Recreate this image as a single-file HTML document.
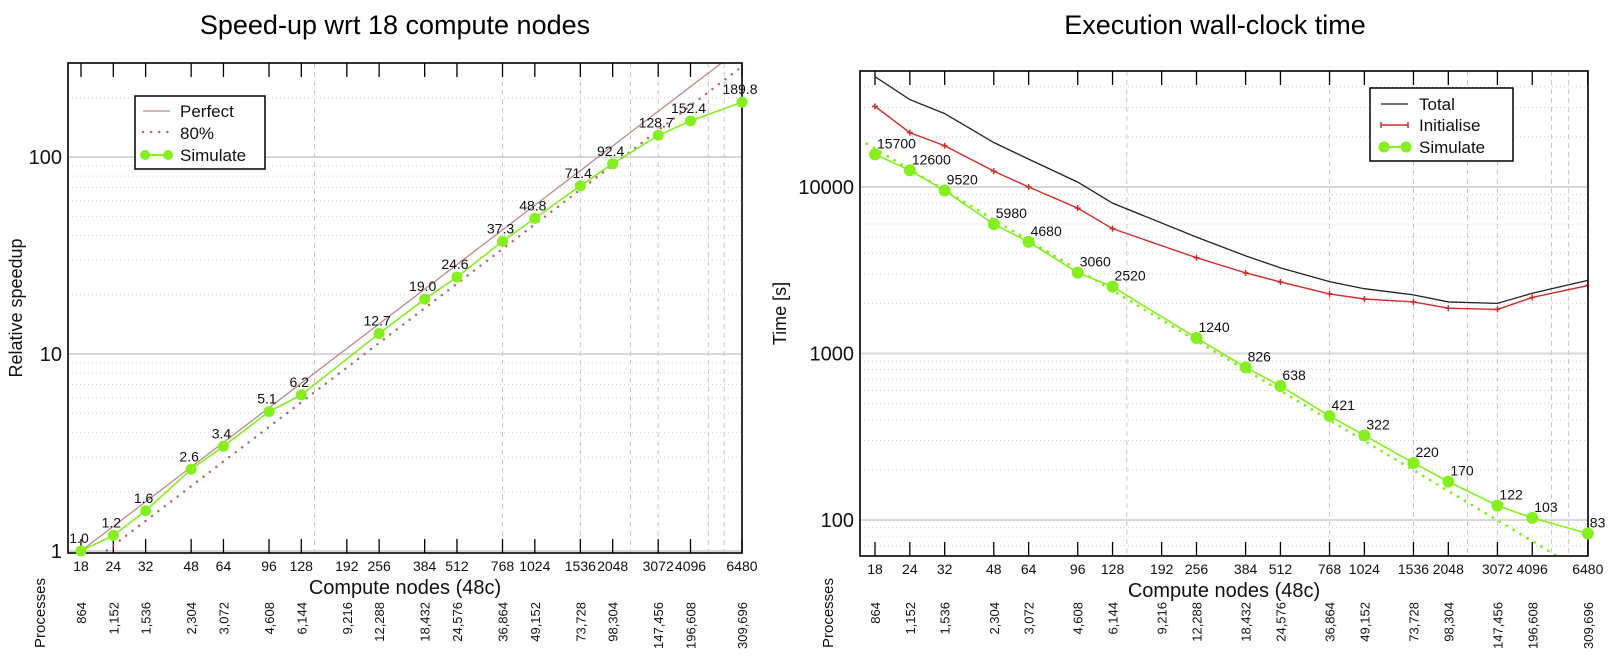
<!DOCTYPE html>
<html><head><meta charset="utf-8"><style>
html,body{margin:0;padding:0;background:#fff;}
svg{display:block;font-family:"Liberation Sans",sans-serif;}
</style></head><body>
<svg id="c" width="1624" height="663" viewBox="0 0 1624 663"></svg>
<script>
const nodes=[18,24,32,48,64,96,128,192,256,384,512,768,1024,1536,2048,3072,4096,6480];
const procLabels=["864","1,152","1,536","2,304","3,072","4,608","6,144","9,216","12,288","18,432","24,576","36,864","49,152","73,728","98,304","147,456","196,608","309,696"];
const gridNodes=[144,768,1536,2400,3072,4800,5530];
const spNodes=[18,24,32,48,64,96,128,256,384,512,768,1024,1536,2048,3072,4096,6480];
const speedup=[1.0,1.2,1.6,2.6,3.4,5.1,6.2,12.7,19.0,24.6,37.3,48.8,71.4,92.4,128.7,152.4,189.8];
const speedupLabels=["1.0","1.2","1.6","2.6","3.4","5.1","6.2","12.7","19.0","24.6","37.3","48.8","71.4","92.4","128.7","152.4","189.8"];
const totalTime=[46000,33500,27600,18500,14700,10700,8000,5000,3860,3270,2700,2450,2250,2040,2000,2300,2750];
const initTime=[30500,21200,17700,12450,10000,7470,5620,3760,3050,2690,2280,2125,2040,1870,1840,2170,2560];
const simTime=[15700,12600,9520,5980,4680,3060,2520,1240,826,638,421,322,220,170,122,103,83];
const idealBase=17000;

const svg=document.getElementById('c');
const NS='http://www.w3.org/2000/svg';
function mk(tag,attrs,parent){const e=document.createElementNS(NS,tag);for(const k in attrs)e.setAttribute(k,attrs[k]);(parent||svg).appendChild(e);return e;}
function txt(s,attrs,parent){const e=mk('text',attrs,parent);e.textContent=s;return e;}

function chart(cfg){
  const g=mk('g',{});
  
  
  const X=n=>cfg.x0+cfg.pxLn*Math.log(n/18);
  const Y=v=>cfg.yRef-cfg.dec*Math.log10(v/cfg.vRef);
  const L=cfg.L,R=cfg.R,T=cfg.T,B=cfg.B;
  for(let d=cfg.dMin;d<=cfg.dMax;d++){
    for(let m=1;m<10;m++){
      const v=m*Math.pow(10,d),y=Y(v);
      if(y<T||y>B)continue;
      const ln=mk('line',{x1:L,x2:R,y1:y,y2:y,stroke:m==1?'#d8d8d8':'#d0d0d0','stroke-width':m==1?2:1,'stroke-dasharray':m==1?'':'1,3'},g);
      
      
    }
  }
  gridNodes.forEach(n=>{const x=X(n);const ln=mk('line',{x1:x,x2:x,y1:T,y2:B,stroke:'#c8c8c8','stroke-dasharray':'5,4'},g);
    });
  cfg.yTicks.forEach(v=>{const t=txt(String(v),{x:L-6,y:Y(v)+7,'text-anchor':'end','font-size':20,fill:'#111'},g);
    });
  nodes.forEach((n,i)=>{const x=X(n);
    mk('line',{x1:x,x2:x,y1:T,y2:T+14,stroke:'#000','stroke-width':1.3},g);
    mk('line',{x1:x,x2:x,y1:B,y2:B-14,stroke:'#000','stroke-width':1.3},g);
    const t=txt(String(n),{x:x,y:B+18,'text-anchor':'middle','font-size':14,fill:'#111'},g);
    
    const p=txt(procLabels[i],{x:0,y:0,transform:`translate(${x+5},602) rotate(-90)`,'text-anchor':'end','font-size':13,fill:'#111'},g);
    
  });
  const cl=mk('clipPath',{id:cfg.name+'-clip'},g);mk('rect',{x:L,y:T,width:R-L,height:B-T},cl);
  const pg=mk('g',{'clip-path':`url(#${cfg.name}-clip)`},g);
  cfg.draw(pg,X,Y);
  const box=mk('rect',{x:L,y:T,width:R-L,height:B-T,fill:'none',stroke:'#000','stroke-width':1.6},g);
  
  const xt=txt('Compute nodes (48c)',{x:(L+R)/2,y:B+41,'text-anchor':'middle','font-size':20,fill:'#111'},g);
  
  const pt=txt('Processes',{x:0,y:0,transform:`translate(${cfg.procX},613) rotate(-90)`,'text-anchor':'middle','font-size':15,fill:'#111'},g);
  
  const yt=txt(cfg.yTitle,{x:0,y:0,transform:`translate(${cfg.yTitleX},${(T+B)/2}) rotate(-90)`,'text-anchor':'middle','font-size':18,fill:'#111'},g);
  
  const tt=txt(cfg.title,{x:cfg.titleX,y:34,'text-anchor':'middle','font-size':27,fill:'#000'},g);
  
  return {g,X,Y};
}
function poly(pts,attrs,parent,name){const p=mk('polyline',Object.assign({points:pts.map(q=>q.join(',')).join(' '),fill:'none'},attrs),parent);
  return p;}

const GREEN='#84f01c';
const left=chart({name:'speedup-chart',x0:81,pxLn:112.3,yRef:551,vRef:1,dec:197,L:68,R:742,T:63,B:553,dMin:0,dMax:2,
  yTicks:[1,10,100],yTitle:'Relative speedup',yTitleX:22,procX:45,title:'Speed-up wrt 18 compute nodes',titleX:395,
  draw:(pg,X,Y)=>{
    poly([[X(18),Y(1)],[X(7000),Y(7000/18)]],{stroke:'#b88a8a','stroke-width':1.3},pg,'perfect-line');
    poly([[X(18),Y(0.8)],[X(7000),Y(0.8*7000/18)]],{stroke:'#a86a6a','stroke-width':2.4,'stroke-dasharray':'0.1,8','stroke-linecap':'round'},pg,'eighty-percent-line');
    poly(spNodes.map((n,i)=>[X(n),Y(speedup[i])]),{stroke:GREEN,'stroke-width':1.6},pg,'simulate-line');
  }});
spNodes.forEach((n,i)=>{
  const c=mk('circle',{cx:left.X(n),cy:left.Y(speedup[i]),r:5.5,fill:GREEN},left.g);
  
  const t=txt(speedupLabels[i],{x:left.X(n)-2,y:left.Y(speedup[i])-8,'text-anchor':'middle','font-size':14,fill:'#111'},left.g);
  
});
(function(){const lg=mk('g',{},left.g);
  mk('rect',{x:135,y:96,width:130,height:73,fill:'#fff',stroke:'#000','stroke-width':1.5},lg);
  mk('line',{x1:143,x2:170,y1:111,y2:111,stroke:'#b88a8a','stroke-width':1.3},lg);
  mk('line',{x1:143,x2:172,y1:132,y2:132,stroke:'#a86a6a','stroke-width':2.4,'stroke-dasharray':'0.1,8','stroke-linecap':'round'},lg);
  mk('line',{x1:145,x2:168,y1:155,y2:155,stroke:GREEN,'stroke-width':2},lg);
  mk('circle',{cx:145,cy:155,r:5,fill:GREEN},lg);mk('circle',{cx:168,cy:155,r:5,fill:GREEN},lg);
  [['Perfect',117],['80%',139],['Simulate',161]].forEach(a=>{const t=txt(a[0],{x:180,y:a[1],'font-size':17,fill:'#111'},lg);
    });
})();

const right=chart({name:'time-chart',x0:875,pxLn:121.1,yRef:187,vRef:10000,dec:166.5,L:860,R:1588,T:71,B:556,dMin:1,dMax:4,
  yTicks:[100,1000,10000],yTitle:'Time [s]',yTitleX:786,procX:833,title:'Execution wall-clock time',titleX:1215,
  draw:(pg,X,Y)=>{
    poly([[X(15),Y(idealBase*18/15)],[X(7000),Y(idealBase*18/7000)]],{stroke:GREEN,'stroke-width':2.8,'stroke-dasharray':'0.1,8','stroke-linecap':'round'},pg,'simulate-ideal-line');
    poly(spNodes.map((n,i)=>[X(n),Y(totalTime[i])]),{stroke:'#222','stroke-width':1.3},pg,'total-line');
    poly(spNodes.map((n,i)=>[X(n),Y(initTime[i])]),{stroke:'#d42a2a','stroke-width':1.4},pg,'initialise-line');
    spNodes.forEach((n,i)=>{const x=X(n),y=Y(initTime[i]);
      const p=mk('path',{d:`M${x-3},${y}H${x+3}M${x},${y-3}V${y+3}`,stroke:'#d42a2a','stroke-width':1.5},pg);
      });
    poly(spNodes.map((n,i)=>[X(n),Y(simTime[i])]),{stroke:GREEN,'stroke-width':1.6},pg,'simulate-line');
  }});
spNodes.forEach((n,i)=>{
  const c=mk('circle',{cx:right.X(n),cy:right.Y(simTime[i]),r:6,fill:GREEN},right.g);
  
  const t=txt(String(simTime[i]),{x:right.X(n)+2,y:right.Y(simTime[i])-6,'font-size':14,fill:'#111'},right.g);
  
});
(function(){const lg=mk('g',{},right.g);
  mk('rect',{x:1370,y:88,width:143,height:73,fill:'#fff',stroke:'#000','stroke-width':1.5},lg);
  mk('line',{x1:1381,x2:1408,y1:104,y2:104,stroke:'#222','stroke-width':1.3},lg);
  mk('line',{x1:1381,x2:1408,y1:125,y2:125,stroke:'#d42a2a','stroke-width':1.4},lg);
  mk('path',{d:'M1381,122V128M1408,122V128',stroke:'#d42a2a','stroke-width':1.5},lg);
  mk('line',{x1:1384,x2:1406,y1:147,y2:147,stroke:GREEN,'stroke-width':2},lg);
  mk('circle',{cx:1384,cy:147,r:5.5,fill:GREEN},lg);mk('circle',{cx:1406,cy:147,r:5.5,fill:GREEN},lg);
  [['Total',110],['Initialise',131],['Simulate',153]].forEach(a=>{const t=txt(a[0],{x:1419,y:a[1],'font-size':17,fill:'#111'},lg);
    });
})();
</script>
</body></html>
